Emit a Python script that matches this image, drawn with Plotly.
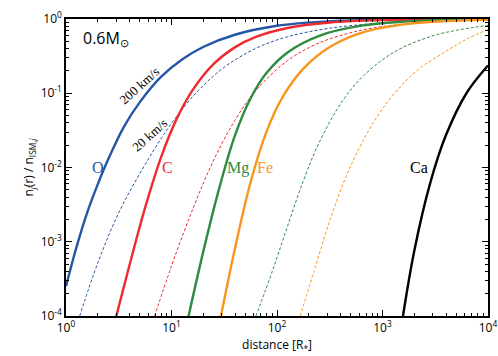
import plotly.graph_objects as go

# log10(distance [R*]) and log10(n_j / n_ISM,j)
O_200_logr = [0.0, 0.1, 0.2, 0.3, 0.4, 0.55, 0.7, 0.9, 1.1, 1.3, 1.6, 2.0, 2.5, 3.0, 4.0]
O_200_logn = [-3.60, -3.07, -2.61, -2.23, -1.89, -1.45, -1.12, -0.78, -0.546, -0.377, -0.212, -0.091, -0.031, -0.010, -0.001]

O_20_logr = [0.13, 0.3, 0.5, 0.75, 1.0, 1.25, 1.5, 1.8, 2.1, 2.5, 3.0, 3.5, 4.0]
O_20_logn = [-4.0, -3.29, -2.61, -1.96, -1.405, -0.97, -0.65, -0.395, -0.239, -0.124, -0.053, -0.022, -0.009]

C_200_logr = [0.477, 0.6, 0.75, 0.9, 1.05, 1.2, 1.4, 1.6, 1.8, 2.1, 2.5, 3.0, 4.0]
C_200_logn = [-4.0, -3.325, -2.54, -1.866, -1.342, -0.957, -0.604, -0.382, -0.241, -0.121, -0.048, -0.015, -0.0015]

C_20_logr = [0.84, 1.0, 1.2, 1.4, 1.6, 1.8, 2.1, 2.4, 2.8, 3.2, 3.6, 4.0]
C_20_logn = [-4.0, -3.326, -2.565, -1.90, -1.366, -0.963, -0.561, -0.322, -0.151, -0.069, -0.031, -0.014]

Mg_200_logr = [1.162, 1.3, 1.45, 1.6, 1.75, 1.9, 2.1, 2.4, 2.8, 3.2, 3.6, 4.0]
Mg_200_logn = [-4.0, -3.14, -2.292, -1.575, -1.067, -0.728, -0.450, -0.226, -0.090, -0.036, -0.014, -0.0057]

Mg_20_logr = [1.8, 1.95, 2.1, 2.25, 2.4, 2.6, 2.8, 3.1, 3.5, 4.0]
Mg_20_logn = [-4.0, -3.42, -2.79, -2.178, -1.663, -1.149, -0.793, -0.455, -0.217, -0.086]

Fe_200_logr = [1.469, 1.6, 1.75, 1.9, 2.05, 2.25, 2.5, 2.8, 3.2, 3.6, 4.0]
Fe_200_logn = [-4.0, -3.10, -2.195, -1.52, -1.06, -0.669, -0.377, -0.186, -0.073, -0.028, -0.011]

Fe_20_logr = [2.221, 2.35, 2.5, 2.65, 2.8, 3.0, 3.3, 3.6, 3.8, 4.0]
Fe_20_logn = [-4.0, -3.40, -2.718, -2.138, -1.682, -1.209, -0.726, -0.436, -0.27, -0.14]

Ca_200_logr = [3.194, 3.3, 3.45, 3.6, 3.8, 4.0]
Ca_200_logn = [-4.0, -3.13, -2.22, -1.57, -0.99, -0.626]

x_tickvals = [1, 10, 100, 1000, 10000]
x_ticktext = ["10<sup>0</sup>", "10<sup>1</sup>", "10<sup>2</sup>", "10<sup>3</sup>", "10<sup>4</sup>"]
y_tickvals = [1e-4, 1e-3, 1e-2, 1e-1, 1]
y_ticktext = ["10<sup>-4</sup>", "10<sup>-3</sup>", "10<sup>-2</sup>", "10<sup>-1</sup>", "10<sup>0</sup>"]

BLUE = "#2456a6"
RED = "#ee2b30"
GREEN = "#2e8b40"
ORANGE = "#f7961f"
BLACK = "#000000"

series = [
    (O_20_logr, O_20_logn, BLUE, "dash"),
    (C_20_logr, C_20_logn, RED, "dash"),
    (Mg_20_logr, Mg_20_logn, GREEN, "dash"),
    (Fe_20_logr, Fe_20_logn, ORANGE, "dash"),
    (O_200_logr, O_200_logn, BLUE, "solid"),
    (C_200_logr, C_200_logn, RED, "solid"),
    (Mg_200_logr, Mg_200_logn, GREEN, "solid"),
    (Fe_200_logr, Fe_200_logn, ORANGE, "solid"),
    (Ca_200_logr, Ca_200_logn, BLACK, "solid"),
]

fig = go.Figure()
for lr, ln, col, style in series:
    fig.add_trace(go.Scatter(
        x=[10 ** v for v in lr], y=[10 ** v for v in ln], mode="lines",
        line=dict(color=col, width=2.4 if style == "solid" else 1.0,
                  dash="solid" if style == "solid" else "3px,2px", shape="spline", smoothing=1.0),
        showlegend=False, hoverinfo="skip"))

serif = "Liberation Serif"
annots = [
    (0.306, -2.0, "O", BLUE, 16, 0),
    (0.96, -2.0, "C", RED, 16, 0),
    (1.633, -2.0, "Mg", GREEN, 16, 0),
    (1.889, -2.0, "Fe", ORANGE, 16, 0),
    (3.35, -2.0, "Ca", BLACK, 16, 0),
    (0.695, -0.89, "200 km/s", BLACK, 13, -42),
    (0.80, -1.56, "20 km/s", BLACK, 13, -42),
]
for ax_, ay_, txt, col, size, ang in annots:
    fig.add_annotation(x=ax_, y=ay_, xref="x", yref="y", text=txt, showarrow=False,
                       font=dict(family=serif, size=size, color=col), textangle=ang)

fig.add_annotation(x=0.035, y=0.936, xref="paper", yref="paper", xanchor="left", yanchor="middle",
                   text="0.6M<sub>\u2299</sub>", showarrow=False,
                   font=dict(family="Open Sans", size=16, color="black"))

minor_vals = [m * 10 ** d for d in range(-4, 4) for m in range(2, 10)]

axis_common = dict(type="log", showgrid=False, zeroline=False, showline=True, linecolor="black",
                   linewidth=1.5, mirror="ticks", ticks="inside", ticklen=6, tickcolor="black",
                   tickwidth=1, automargin=False,
                   tickfont=dict(family="Open Sans", size=12, color="black"),
                   minor=dict(ticks="inside", ticklen=3, tickcolor="black", tickwidth=1, showgrid=False,
                              tickmode="array", tickvals=minor_vals))

fig.update_xaxes(range=[0, 4], tickmode="array", tickvals=x_tickvals, ticktext=x_ticktext,
                 title=dict(text="distance [R<sub>*</sub>]", font=dict(family="Open Sans", size=12, color="black"), standoff=2),
                 **axis_common)
fig.update_yaxes(range=[-4, 0], tickmode="array", tickvals=y_tickvals, ticktext=y_ticktext,
                 title=dict(text="n<sub><i>j</i></sub>(r) / n<sub>ISM,<i>j</i></sub>", font=dict(family="Open Sans", size=12, color="black"), standoff=4),
                 **axis_common)

fig.update_layout(width=498, height=356, margin=dict(l=66, r=10, t=19, b=40),
                  plot_bgcolor="white", paper_bgcolor="white")

fig.write_html("out.html", config={"displayModeBar": False},
               post_script="document.body.style.margin='0';document.body.style.overflow='hidden';")
